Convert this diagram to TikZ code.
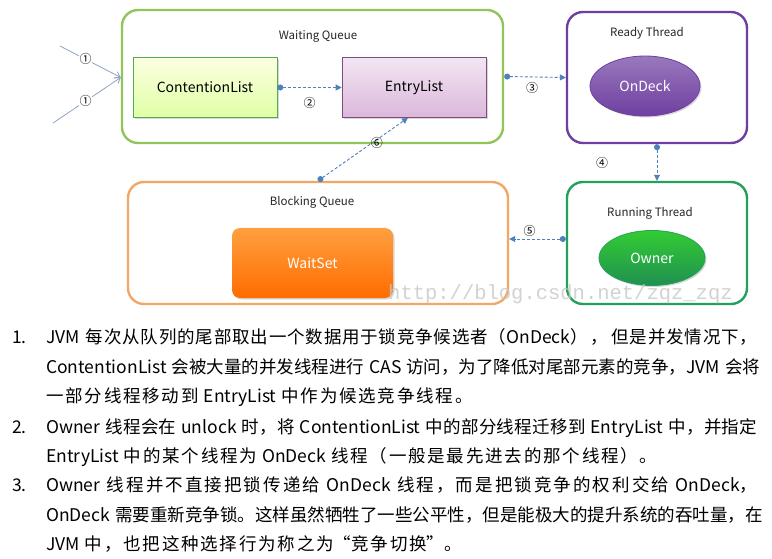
\documentclass[tikz,border=0pt]{standalone}
\usepackage{fontspec}
\setmainfont{Noto Sans CJK SC}
\newfontfamily\markfont{Liberation Mono}
\usepackage{tikz}
\usetikzlibrary{positioning,shapes.geometric,arrows.meta,shadows}
\definecolor{WaitGreen}{HTML}{92C45A}
\definecolor{ReadyPurple}{HTML}{6E3FA0}
\definecolor{RunGreen}{HTML}{23A05A}
\definecolor{BlockOrange}{HTML}{F2A766}
\definecolor{FlowBlue}{HTML}{4F81BD}
\definecolor{FeedGray}{HTML}{8FA3C2}
% a little room between Chinese characters
\XeTeXinterchartokenstate=1
\newXeTeXintercharclass\hanclass
\newcount\hancode
\hancode="4E00
\loop \XeTeXcharclass\hancode=\hanclass \ifnum\hancode<"9FFF \advance\hancode 1 \repeat
\hancode="3000
\loop \XeTeXcharclass\hancode=\hanclass \ifnum\hancode<"303F \advance\hancode 1 \repeat
\hancode="FF00
\loop \XeTeXcharclass\hancode=\hanclass \ifnum\hancode<"FF20 \advance\hancode 1 \repeat
\XeTeXinterchartoks\hanclass\hanclass={\hskip 1.8pt plus 2pt minus 1.8pt\relax}
\newcommand{\lineat}[2]{\node[itemline] at (46,#1) {\spaceskip 5pt plus 3pt\relax #2};}
\newcommand{\fullline}[1]{\hbox to 711pt{#1}}

\begin{document}
\begin{tikzpicture}[x=1pt,y=-1pt,
        queue/.style={
            rectangle, rounded corners=16pt, line width=2.4pt,
            fill=white, inner sep=0pt
        },
        title/.style={font=\fontsize{11.5}{13}\selectfont, text=black!85},
        list/.style={
            rectangle, draw=#1, line width=0.6pt,
            minimum width=144pt, minimum height=60pt,
            font=\fontsize{14}{16}\selectfont,
            drop shadow={opacity=0.3, shadow xshift=1.5pt, shadow yshift=-1.5pt}
        },
        thread/.style={
            ellipse, draw=#1, line width=0.8pt, text=white,
            font=\fontsize{14}{16}\selectfont,
            drop shadow={opacity=0.3, shadow xshift=1.5pt, shadow yshift=-1.5pt}
        },
        flow/.style={
            draw=FlowBlue, densely dashed, line width=0.9pt,
            {Circle[length=6pt]}-{Triangle[length=6pt, width=6pt]}
        },
        feed/.style={draw=FeedGray, line width=0.8pt, -{Straight Barb[length=5pt, width=7pt]}},
        num/.style={font=\fontsize{12}{12}\selectfont, inner sep=0.5pt},
        itemline/.style={anchor=base west, inner sep=0pt, font=\fontsize{17.5}{20}\selectfont},
        itemnum/.style={anchor=base west, inner sep=0pt, font=\fontsize{17.5}{20}\selectfont}
    ]
        \useasboundingbox[fill=white] (0,0) rectangle (772,559);

        % queues and threads
        \node[queue, draw=WaitGreen, minimum width=381pt, minimum height=133pt] (wq) at (312.5,76.5) {};
        \node[queue, draw=ReadyPurple, minimum width=180pt, minimum height=131pt] (rt) at (657,77.5) {};
        \node[queue, draw=RunGreen, minimum width=180pt, minimum height=122pt] (run) at (657,243) {};
        \node[queue, draw=BlockOrange, minimum width=380pt, minimum height=122pt] (bq) at (318,243) {};

        \node[title] (wqt) at (318,36) {Waiting Queue};
        \node[title] (rtt) at (647,33) {Ready Thread};
        \node[title] (runt) at (650,213) {Running Thread};
        \node[title] (bqt) at (312,202) {Blocking Queue};

        \node[list=green!35!gray, top color=green!8!yellow!12, bottom color=green!35!yellow!35] (cl) at (205,87.5) {ContentionList};
        \node[list=violet!40!gray, top color=violet!10, bottom color=violet!28] (el) at (414,87.5) {EntryList};
        \node[thread=ReadyPurple, minimum width=110pt, minimum height=60pt,
              top color=ReadyPurple!70, bottom color=ReadyPurple] (ondeck) at (645,86) {OnDeck};
        \node[thread=RunGreen, minimum width=106pt, minimum height=55pt,
              top color=green!75!black!80, bottom color=RunGreen!90!black] (owner) at (652,258) {Owner};
        \node[rectangle, rounded corners=8pt, minimum width=161pt, minimum height=70pt,
              text=white, font=\fontsize{14}{16}\selectfont,
              top color=orange!75, bottom color=orange!85!red,
              drop shadow={opacity=0.3, shadow xshift=1.5pt, shadow yshift=-1.5pt}] (ws) at (312.5,263) {WaitSet};

        % incoming threads
        \coordinate (in1) at (60,46);
        \coordinate (in2) at (53,123);
        \draw[feed] (in1) -- node[num, fill=white, pos=.42] {①} ([yshift=-1pt]wq.west);
        \draw[feed] (in2) -- node[num, fill=white, pos=.48] {①} ([yshift=-1pt]wq.west);

        % moves between the sets
        \draw[flow] (cl) -- node[num, below=9pt] {②} (el);
        \draw[flow] (wq.east) -- node[num, below=4pt, xshift=-3pt] {③} (rt.west);
        \draw[flow] (rt.south) -- node[num, left=48pt] {④} (run.north);
        \draw[flow] ([yshift=4pt]run.west) -- node[num, above=2pt, xshift=-8pt] {⑤} ([yshift=4pt]bq.east);
        \draw[flow] (bq.north) -- node[num, right=7pt, yshift=6pt] {⑥} ([xshift=-6pt]el.south);

        % watermark
        \node[anchor=base west, inner sep=0pt, text=black!22, opacity=0.8,
              font=\markfont\fontsize{20.5}{22}\selectfont] (mark) at (388,299) {http://blog.csdn.net/zqz\_zqz};

        % notes
        \node[itemnum] (n1) at (12,343) {1.};
        \node[itemnum] (n2) at (12,433) {2.};
        \node[itemnum] (n3) at (12,491) {3.};
        \lineat{343}{\fullline{JVM\hskip 6pt plus 4pt 每次从队列的尾部取出一个数据用于锁竞争候选者（OnDeck）\hskip 3pt plus 4pt，\hskip 3pt plus 4pt 但是并发情况下，}}
        \lineat{373}{\fullline{ContentionList 会被大量的并发线程进行 CAS 访问，为了降低对尾部元素的竞争，JVM 会将}}
        \lineat{402}{一部分线程移动到 EntryList 中作为候选竞争线程。}
        \lineat{433}{\fullline{Owner 线程会在 unlock 时，将 ContentionList 中的部分线程迁移到 EntryList 中，并指定}}
        \lineat{462}{EntryList 中的某个线程为 OnDeck 线程（一般是最先进去的那个线程）。}
        \lineat{491}{\fullline{Owner\hskip 6pt plus 4pt 线程并不直接把锁传递给\hskip 6pt plus 4pt OnDeck\hskip 6pt plus 4pt 线程，而是把锁竞争的权利交给\hskip 6pt plus 4pt OnDeck，}}
        \lineat{521}{\fullline{OnDeck 需要重新竞争锁。这样虽然牺牲了一些公平性，但是能极大的提升系统的吞吐量，在}}
        \lineat{550}{JVM 中，也把这种选择行为称之为“竞争切换”。}
    \end{tikzpicture}
\end{document}
